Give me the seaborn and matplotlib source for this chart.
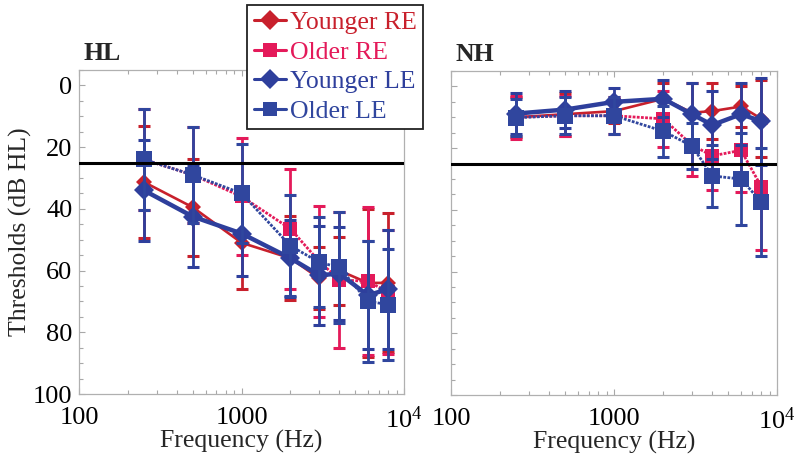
import pandas as pd
import seaborn as sns
import matplotlib.pyplot as plt
from matplotlib.lines import Line2D
from matplotlib.ticker import FixedLocator, LogLocator, NullFormatter, MultipleLocator

sns.set_theme(style='ticks')
plt.rcParams['font.family'] = ['Liberation Serif', 'DejaVu Serif']
plt.rcParams['mathtext.fontset'] = 'custom'
plt.rcParams['mathtext.rm'] = 'Liberation Serif'

freqs = [250, 500, 1000, 2000, 3000, 4000, 6000, 8000]
series = ['Younger RE', 'Older RE', 'Younger LE', 'Older LE']

# HL group (mean, sd)
hl_young_re = [31.3, 39.5, 51, 56, 62.5, 60, 64, 64]
hl_young_re_sd = [18, 15.8, 15, 13.6, 10, 11, 24, 22.5]
hl_old_re = [24, 29, 36, 46.5, 57, 63, 63.5, 67]
hl_old_re_sd = [16.5, 15.5, 19, 19.5, 18, 22, 24, 20]
hl_young_le = [34, 42.5, 48, 56, 61.5, 61, 68, 66]
hl_young_le_sd = [16.3, 16.3, 13.8, 12.5, 16, 15, 17.5, 19.3]
hl_old_le = [24, 29, 35, 52, 57.3, 59, 70, 71]
hl_old_le_sd = [16.5, 15.5, 16.1, 16.4, 14.5, 18, 19.5, 18]

# NH group (mean, sd)
nh_young_re = [10, 9, 8, 4, 8.5, 8, 6.5, 10.5]
nh_young_re_sd = [6.5, 7, 4, 5, 9.5, 9, 6.5, 12.5]
nh_old_re = [10, 9.5, 9.5, 10.5, 19, 22.5, 20.7, 32.5]
nh_old_re_sd = [7, 6.5, 6, 9, 10, 11, 13.5, 20.5]
nh_young_le = [8.8, 7.5, 5, 4, 9, 12.5, 9, 11.3]
nh_young_le_sd = [6.6, 6, 4.5, 6, 10, 11, 10, 14]
nh_old_le = [10.1, 9.5, 9.5, 14.5, 19.3, 29, 30, 37.5]
nh_old_le_sd = [6, 6, 6, 8.3, 7.5, 10, 15, 17.5]

normal_limit = 25

groups = {
    'HL': [(hl_young_re, hl_young_re_sd), (hl_old_re, hl_old_re_sd),
           (hl_young_le, hl_young_le_sd), (hl_old_le, hl_old_le_sd)],
    'NH': [(nh_young_re, nh_young_re_sd), (nh_old_re, nh_old_re_sd),
           (nh_young_le, nh_young_le_sd), (nh_old_le, nh_old_le_sd)],
}

rows = []
for g, data in groups.items():
    for name, (m, s) in zip(series, data):
        for f, v, e in zip(freqs, m, s):
            rows.append({'group': g, 'series': name, 'freq': f, 'thr': v, 'sd': e})
df = pd.DataFrame(rows)

styles = {
    'Younger RE': dict(color='#c8202c', marker='D', ms=8.5, lw=1.9, ls='-'),
    'Older RE': dict(color='#e41a5a', marker='s', ms=10, lw=2.0, ls=(0, (1, 0.5))),
    'Younger LE': dict(color='#2e3f9c', marker='D', ms=10, lw=3.2, ls='-'),
    'Older LE': dict(color='#30469e', marker='s', ms=11.5, lw=2.0, ls=(0, (1, 0.5))),
}

fig = plt.figure(figsize=(8, 4.61), dpi=100)
ax1 = fig.add_axes([0.099, 0.1453, 0.406, 0.703])
ax2 = fig.add_axes([0.564, 0.143, 0.4075, 0.703])

for ax, g in [(ax1, 'HL'), (ax2, 'NH')]:
    ax.set_xscale('log')
    for i, name in enumerate(series):
        st = styles[name]
        sub = df[(df.group == g) & (df.series == name)]
        ax.errorbar(sub.freq, sub.thr, yerr=sub.sd, fmt='none', ecolor=st['color'],
                    elinewidth=2.0, capsize=4, capthick=2.2, zorder=2 + i)
        sns.lineplot(data=sub, x='freq', y='thr', ax=ax, color=st['color'],
                     marker=st['marker'], markersize=st['ms'], markeredgewidth=0,
                     linewidth=st['lw'], linestyle=st['ls'], errorbar=None,
                     legend=False, zorder=2.5 + i)
    ax.axhline(normal_limit, color='black', lw=2.2, zorder=10)
    ax.set_xlim(100, 10000)
    ax.set_ylim(100, -5)
    ax.xaxis.set_major_locator(FixedLocator([100, 1000, 10000]))
    ax.xaxis.set_minor_locator(LogLocator(base=10, subs=range(2, 10)))
    ax.xaxis.set_minor_formatter(NullFormatter())
    ax.set_xticklabels(['100', '1000', r'$\mathregular{10^4}$'])
    ax.yaxis.set_major_locator(FixedLocator([0, 20, 40, 60, 80, 100]))
    ax.yaxis.set_minor_locator(MultipleLocator(5))
    ax.tick_params(which='both', direction='in', top=True, right=False,
                   color='#a8a8a8', labelsize=19, labelcolor='black')
    ax.tick_params(which='major', length=4, width=0.8)
    ax.tick_params(which='minor', length=3, width=0.8)
    ax.tick_params(axis='x', pad=9)
    ax.tick_params(axis='y', pad=5)
    for sp in ax.spines.values():
        sp.set_color('#b0b0b0')
        sp.set_linewidth(0.9)
    ax.set_xlabel('Frequency (Hz)', fontsize=18.5)
    ax.xaxis.set_label_coords(0.5, -0.11)
    ax.text(0.012, 1.03, g, transform=ax.transAxes, fontsize=18.5,
            fontweight='bold', va='baseline', ha='left')

ax1.set_ylabel('Thresholds (dB HL)', fontsize=18.5)
ax1.yaxis.set_label_coords(-0.145, 0.5)
ax2.set_ylabel('')
ax2.set_yticklabels([])

handles = [Line2D([0], [0], color=styles[n]['color'], marker=styles[n]['marker'],
                  markersize=10, markeredgewidth=0, linewidth=2.2) for n in series]
leg = fig.legend(handles, series, loc='upper left', bbox_to_anchor=(0.309, 0.989),
                 fontsize=18.5, frameon=True, fancybox=False, framealpha=1,
                 edgecolor='#222222', borderpad=0.25, labelspacing=0.25,
                 handletextpad=0.15, handlelength=1.25, borderaxespad=0)
leg.get_frame().set_linewidth(1.3)
for t, n in zip(leg.get_texts(), series):
    t.set_color(styles[n]['color'])

fig.savefig('out.png', dpi=100)
